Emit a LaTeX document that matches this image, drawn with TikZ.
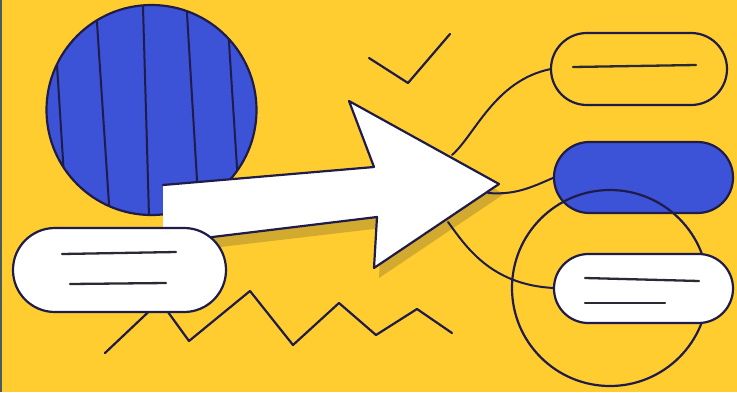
\documentclass[tikz,border=0pt]{standalone}
\definecolor{bgyellow}{HTML}{FFCD2F}
\definecolor{cblue}{HTML}{3C52D7}
\definecolor{navy}{HTML}{1F1C4A}
\definecolor{shadowcol}{HTML}{D2AA30}
\definecolor{stripcol}{HTML}{4A5A5E}
\definecolor{txtline}{HTML}{2A2A33}
\tikzset{
  outl/.style={draw=navy, line width=2.2pt, line join=round, line cap=round},
  pill/.style={outl, rectangle, inner sep=0pt, outer sep=0pt},
  textline/.style={draw=txtline, line width=2.3pt, line cap=round},
  conn/.style={draw=navy, line width=2pt, line cap=round}
}
\begin{document}
\begin{tikzpicture}[x=1pt,y=-1pt]
\useasboundingbox (0,0) rectangle (737,392);
% background
\fill[bgyellow] (0,0) rectangle (737,392);
\fill[stripcol] (0,0) rectangle (1.6,392);

% big blue circle with stripes
\fill[cblue] (151.5,110) circle[radius=105];
\begin{scope}
  \clip (151.5,110) circle[radius=105];
  \draw[navy, line width=2pt] (52.9,0) -- (67.4,230);
  \draw[navy, line width=2pt] (95.5,0) -- (110.7,230);
  \draw[navy, line width=2pt] (142.8,0) -- (149.4,230);
  \draw[navy, line width=2pt] (186.2,0) -- (200,230);
  \draw[navy, line width=2pt] (226.3,0) -- (241,230);
\end{scope}
\draw[outl] (151.5,110) circle[radius=105];

% zigzag
\draw[outl] (105,353) -- (160,301) -- (189,341) -- (250,291) -- (293,345)
  -- (339,303) -- (376,335) -- (417,309) -- (452,333);

% check mark
\draw[outl] (369,58) -- (408,83) -- (450,34);

% arrow shadow
\fill[shadowcol] (169,196) -- (380,178) -- (355,112) -- (504,194)
  -- (379,278) -- (382,228) -- (169,253) -- cycle;
% arrow
\coordinate (a1) at (163,185);
\coordinate (a2) at (374,167);
\coordinate (a3) at (349,101);
\coordinate (tip) at (499,184);
\coordinate (a5) at (374,268);
\coordinate (a6) at (377,217);
\coordinate (a7) at (163,243);
\fill[white] (a1) -- (a2) -- (a3) -- (tip) -- (a5) -- (a6) -- (a7) -- cycle;
\draw[outl] (a7) -- (a6) -- (a5) -- (tip) -- (a3) -- (a2) -- (a1);

% connector start points on the arrow
\coordinate (s1) at (452,155);
\coordinate (s2) at (488,193);
\coordinate (s3) at (448,222);

% left white pill
\node[pill, fill=white, minimum width=213pt, minimum height=84pt, rounded corners=41.9pt] (lp) at (119.5,270) {};
\draw[textline] (62,254) -- (176,252);
\draw[textline] (70,284) -- (166,283);

% right pills
\node[pill, fill=bgyellow, minimum width=176pt, minimum height=72pt, rounded corners=35.9pt] (p1) at (639,69) {};
\draw[textline] (573,67) -- (696,65);
\node[pill, fill=cblue, minimum width=179pt, minimum height=71pt, rounded corners=35.4pt] (p2) at (643.5,177.5) {};

% connectors
\draw[conn] (s1) .. controls (475,135) and (495,80) .. (p1.west);
\draw[conn] (s2) .. controls (515,195) and (530,188) .. (p2.west);

% outline circle
\draw[outl] (610,288) circle[radius=98];

\draw[conn] (s3) .. controls (465,245) and (490,285) .. (554,288);
\node[pill, fill=white, minimum width=179pt, minimum height=69pt, rounded corners=34.4pt] (p3) at (643.5,288.5) {};
\draw[textline] (585,278) -- (699,281);
\draw[textline] (585,303) -- (665,303);
\end{tikzpicture}
\end{document}
